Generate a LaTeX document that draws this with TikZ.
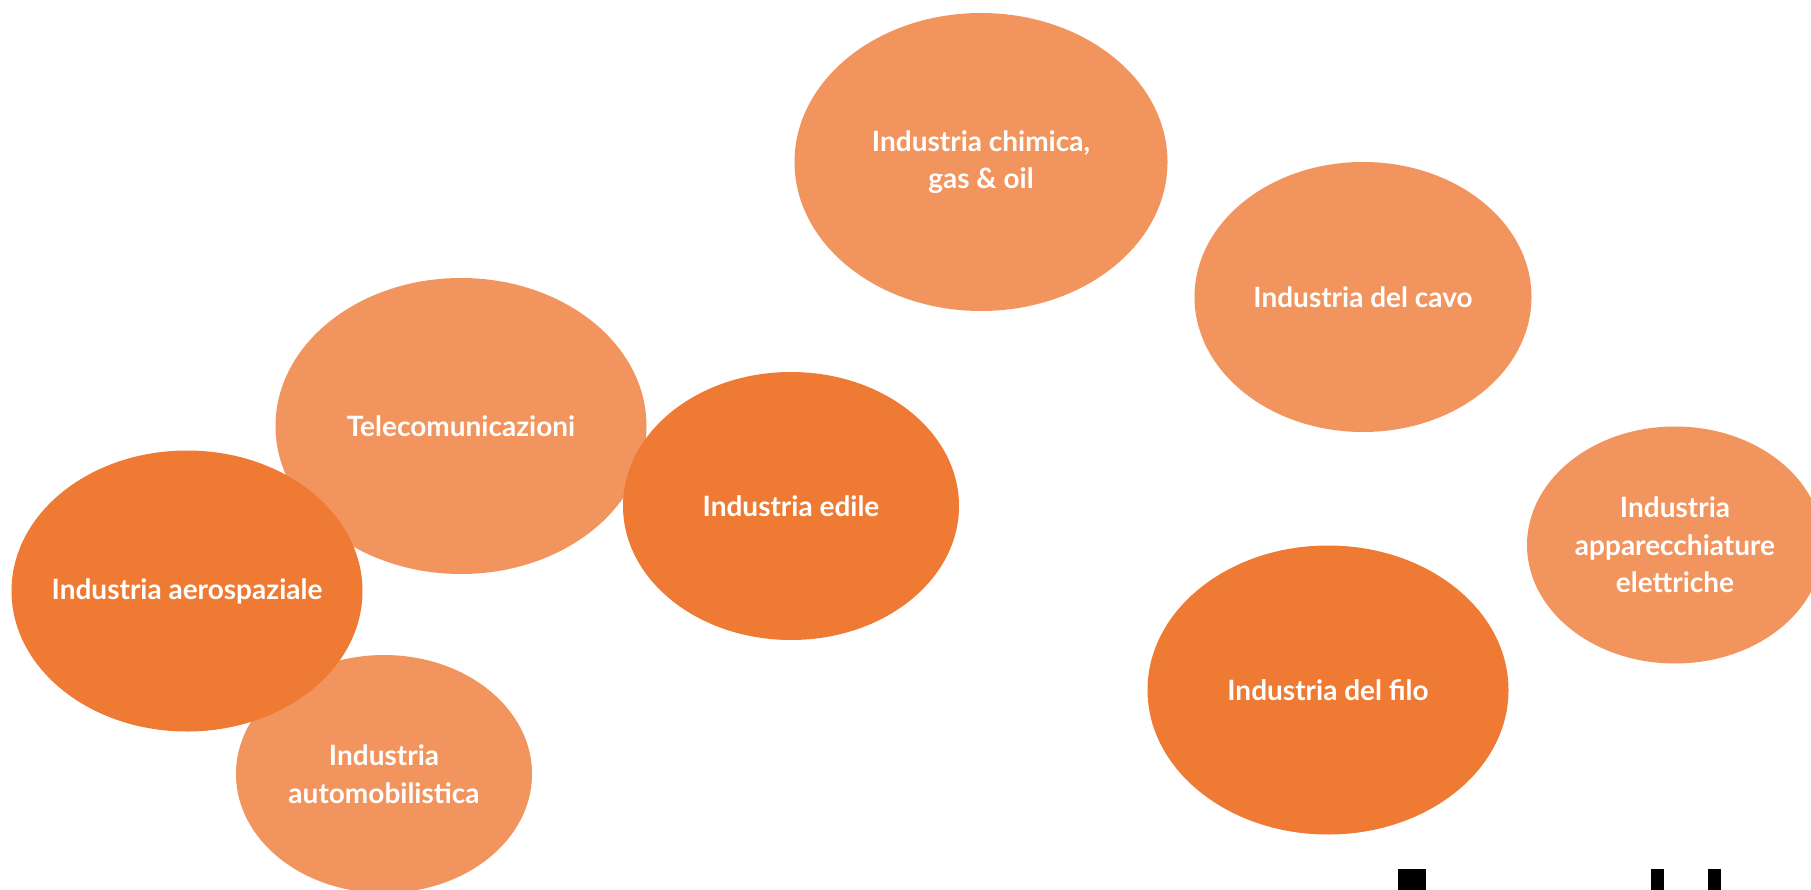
\documentclass[tikz,border=0pt]{standalone}
\usepackage{fontspec}
\setmainfont{Lato}
\usetikzlibrary{shapes.geometric}
\definecolor{lightor}{HTML}{F2945D}
\definecolor{darkor}{HTML}{EE7A34}
\tikzset{
  blob/.style={ellipse, inner sep=0pt, draw=none},
  lightblob/.style={blob, fill=lightor},
  darkblob/.style={blob, fill=darkor},
  lbl/.style={text=white, align=center, font=\fontsize{28}{37.5}\selectfont\bfseries},
  bar/.style={fill=black, draw=none}
}
\begin{document}
\begin{tikzpicture}[x=1pt,y=-1pt]
\useasboundingbox[fill=white] (0,0) rectangle (1811,890);
% shapes (back to front)
\node[lightblob, minimum width=371pt, minimum height=296pt] (tel) at (461,426) {};
\node[lightblob, minimum width=296pt, minimum height=238pt] (auto) at (384,774) {};
\node[darkblob, minimum width=351pt, minimum height=281pt] (aero) at (187,591) {};
\node[darkblob, minimum width=336pt, minimum height=268pt] (edile) at (791,506) {};
\node[lightblob, minimum width=373pt, minimum height=298pt] (chim) at (981,162) {};
\node[lightblob, minimum width=337pt, minimum height=270pt] (cavo) at (1363,297) {};
\node[darkblob, minimum width=361pt, minimum height=289pt] (filo) at (1328,690) {};
\node[lightblob, minimum width=296pt, minimum height=237pt] (app) at (1675,545) {};
% labels
\node[lbl] (tel-t) at (tel) {Telecomunicazioni};
\node[lbl] (auto-t) at (auto) {Industria\\automobilistica};
\node[lbl] (aero-t) at (aero) {Industria aerospaziale};
\node[lbl] (edile-t) at (edile) {Industria edile};
\node[lbl] (chim-t) at (chim) {Industria chimica,\\gas \& oil};
\node[lbl] (cavo-t) at (cavo) {Industria del cavo};
\node[lbl] (filo-t) at (filo) {Industria del filo};
\node[lbl] (app-t) at (app) {Industria\\apparecchiature\\elettriche};
% partial black marks at the bottom edge
\fill[bar] (1398,869) rectangle (1426,890);
\fill[bar] (1651,869) rectangle (1664,890);
\fill[bar] (1708,869) rectangle (1721,890);
\end{tikzpicture}
\end{document}
